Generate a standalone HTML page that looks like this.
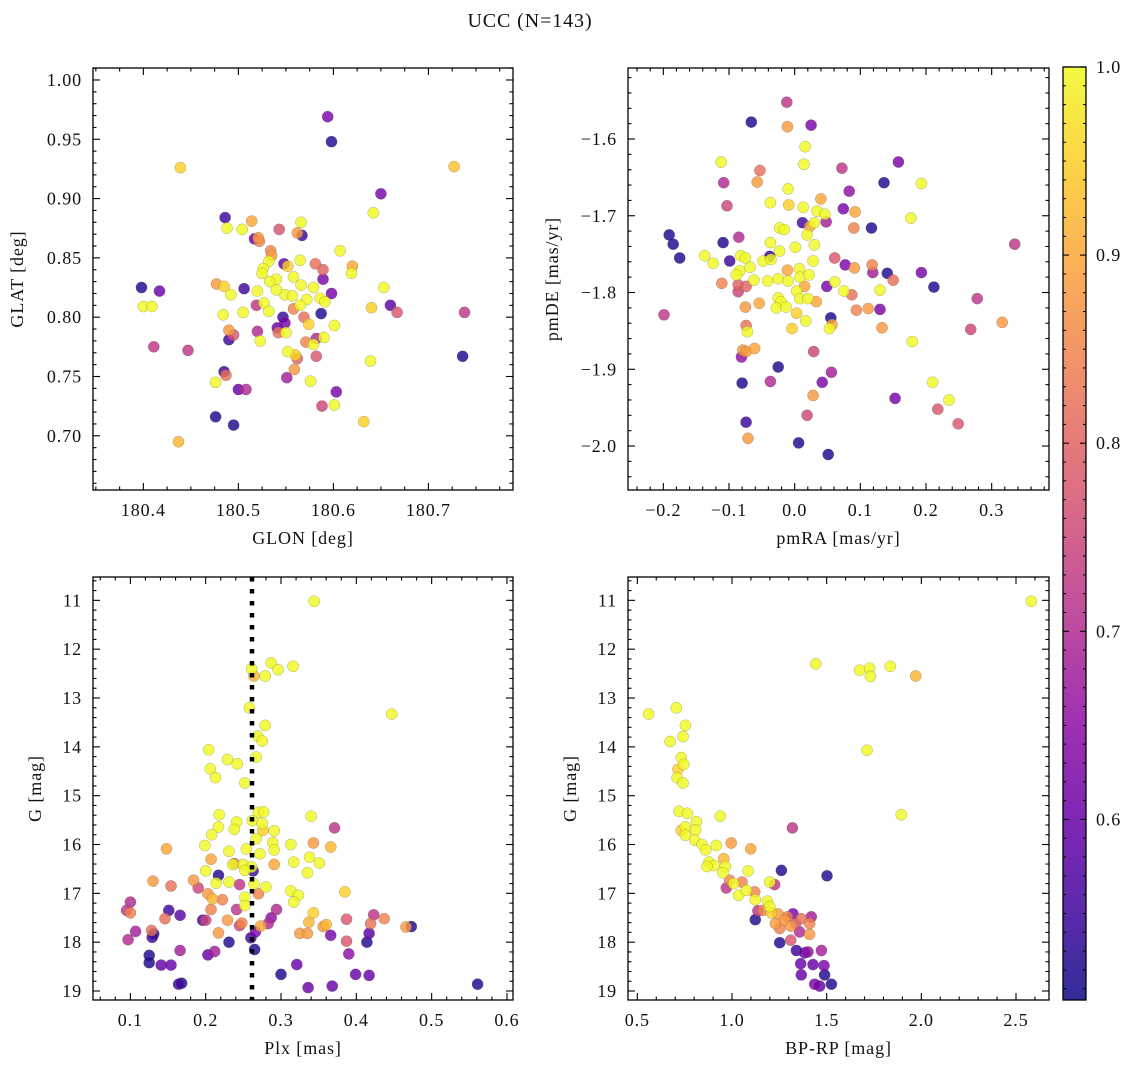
<!DOCTYPE html>
<html><head><meta charset="utf-8">
<style>
html,body{margin:0;padding:0;background:#fff;}
svg{display:block;font-family:"Liberation Serif","DejaVu Serif",serif;}
text{letter-spacing:0.9px;}
</style></head>
<body>
<svg id="fig" width="1136" height="1067" viewBox="0 0 1136 1067" xmlns="http://www.w3.org/2000/svg">
<rect x="0" y="0" width="1136" height="1067" fill="#fff"/>
<text x="530" y="27" font-size="20" text-anchor="middle" fill="#111">UCC (N=143)</text>
</svg>
<script>
// ---------- data ----------
const p1Glon = [180.594,180.598,180.439,180.727,180.650,180.642,180.486,180.488,180.504,180.514,180.543,180.566,180.567,180.562,180.517,180.521,180.522,180.607,180.534,180.535,180.565,180.548,180.581,180.620,180.619,180.589,180.532,180.526,180.525,180.552,180.558,180.589,180.477,180.485,180.506,180.540,180.533,180.566,180.579,180.653,180.398,180.417,180.492,180.520,180.549,180.557,180.598,180.586,180.572,180.540,180.400,180.409,180.527,180.519,180.558,180.565,180.591,180.640,180.660,180.667,180.738,180.505,180.532,180.587,180.484,180.547,180.569,180.541,180.549,180.574,180.601,180.490,180.495,180.490,180.520,180.542,180.550,180.523,180.571,180.582,180.579,180.590,180.411,180.447,180.552,180.560,180.562,180.582,180.639,180.736,180.485,180.487,180.476,180.559,180.551,180.576,180.500,180.508,180.603,180.588,180.601,180.476,180.495,180.632,180.437];
const p1Glat = [0.969,0.948,0.926,0.927,0.904,0.888,0.884,0.875,0.874,0.881,0.874,0.880,0.869,0.871,0.866,0.867,0.864,0.856,0.856,0.852,0.848,0.845,0.845,0.843,0.837,0.840,0.847,0.841,0.837,0.843,0.834,0.832,0.828,0.826,0.824,0.832,0.830,0.827,0.825,0.825,0.825,0.822,0.819,0.822,0.819,0.818,0.820,0.816,0.815,0.823,0.809,0.809,0.812,0.810,0.807,0.810,0.813,0.808,0.810,0.804,0.804,0.804,0.805,0.803,0.802,0.800,0.800,0.791,0.795,0.794,0.793,0.789,0.785,0.781,0.788,0.787,0.787,0.780,0.779,0.782,0.777,0.783,0.775,0.772,0.771,0.768,0.765,0.767,0.763,0.767,0.754,0.751,0.745,0.756,0.749,0.746,0.739,0.739,0.737,0.725,0.726,0.716,0.709,0.712,0.695];
const p1Prob = [0.62,0.52,0.95,0.93,0.62,1,0.55,1,1,0.9,0.77,1,0.55,0.88,0.6,0.88,0.85,1,0.85,0.88,1,0.58,0.82,0.9,1,0.8,1,1,1,0.95,1,0.62,0.88,0.95,0.55,1,1,1,1,1,0.52,0.6,1,1,1,1,0.62,1,1,1,1,1,1,0.72,0.85,1,1,0.95,0.58,0.78,0.72,1,1,0.52,1,0.55,0.82,0.6,0.62,0.95,1,0.88,0.78,0.55,0.7,0.82,1,1,0.85,0.7,1,1,0.72,0.72,1,0.95,0.8,0.78,1,0.52,0.55,0.82,1,0.88,0.68,1,0.6,0.7,0.62,0.75,1,0.52,0.52,0.95,0.92];

const p2PmRA = [-0.012,-0.066,-0.011,0.025,0.016,0.014,-0.112,-0.053,-0.108,-0.057,0.072,0.158,0.136,0.193,-0.010,0.083,0.040,-0.103,-0.037,-0.009,0.013,0.034,0.046,0.074,0.092,0.177,0.012,0.048,0.030,0.023,-0.023,-0.016,0.090,0.117,0.019,-0.191,-0.185,-0.175,-0.109,-0.085,-0.037,0.001,0.030,0.335,-0.137,-0.124,-0.099,-0.082,-0.075,-0.068,-0.048,-0.038,-0.036,-0.023,0.028,0.061,0.077,0.091,0.118,0.119,0.141,0.150,0.193,0.212,-0.084,-0.089,-0.111,-0.086,-0.086,-0.074,-0.062,-0.041,-0.025,-0.011,-0.010,0.007,0.008,0.022,0.003,0.015,0.049,0.061,0.075,0.087,0.130,0.278,-0.075,-0.054,-0.025,-0.021,-0.028,-0.013,0.008,0.020,0.033,0.003,0.017,0.094,0.112,0.130,-0.199,0.055,0.057,0.053,-0.004,-0.074,-0.072,0.133,0.316,0.268,0.179,-0.081,-0.079,-0.074,-0.061,0.029,-0.025,-0.080,-0.037,0.042,0.056,0.210,0.028,0.153,0.235,0.218,0.249,0.019,-0.074,-0.071,0.006,0.051];
const p2PmDE = [-1.552,-1.578,-1.584,-1.582,-1.610,-1.633,-1.630,-1.641,-1.657,-1.656,-1.638,-1.630,-1.657,-1.658,-1.665,-1.668,-1.678,-1.687,-1.683,-1.686,-1.689,-1.694,-1.698,-1.691,-1.695,-1.703,-1.709,-1.708,-1.709,-1.714,-1.716,-1.718,-1.716,-1.716,-1.725,-1.725,-1.737,-1.755,-1.735,-1.728,-1.735,-1.741,-1.738,-1.737,-1.752,-1.762,-1.759,-1.752,-1.755,-1.767,-1.759,-1.753,-1.757,-1.746,-1.759,-1.755,-1.764,-1.768,-1.764,-1.774,-1.775,-1.784,-1.774,-1.793,-1.772,-1.777,-1.788,-1.790,-1.799,-1.792,-1.784,-1.785,-1.782,-1.771,-1.785,-1.769,-1.780,-1.777,-1.798,-1.792,-1.792,-1.786,-1.798,-1.803,-1.797,-1.808,-1.819,-1.814,-1.807,-1.812,-1.820,-1.819,-1.808,-1.808,-1.812,-1.827,-1.837,-1.823,-1.821,-1.822,-1.829,-1.833,-1.842,-1.847,-1.847,-1.843,-1.851,-1.846,-1.839,-1.848,-1.864,-1.884,-1.875,-1.877,-1.873,-1.877,-1.897,-1.918,-1.916,-1.917,-1.904,-1.917,-1.934,-1.938,-1.940,-1.952,-1.971,-1.960,-1.969,-1.990,-1.996,-2.011];
const p2Prob = [0.72,0.52,0.88,0.62,1,1,1,0.82,0.7,0.88,0.72,0.62,0.52,1,1,0.65,0.9,0.75,1,0.95,1,1,1,0.62,0.9,1,0.55,0.68,1,0.9,1,1,0.85,0.52,1,0.52,0.52,0.52,0.52,0.7,1,1,1,0.72,1,1,0.55,1,1,1,1,0.55,1,1,1,0.78,0.62,0.88,0.85,0.68,0.52,0.82,0.62,0.52,1,1,0.85,0.8,0.75,0.8,1,1,1,0.9,1,1,1,1,1,0.9,0.62,1,1,0.82,1,0.72,0.88,0.9,1,1,1,1,1,1,0.9,0.95,1,0.85,0.88,0.62,0.72,0.52,0.9,1,0.95,0.82,1,0.88,0.88,0.75,1,0.65,0.88,0.88,0.9,0.75,0.52,0.52,0.7,0.62,0.68,1,0.88,0.62,1,0.78,0.78,0.75,0.55,0.88,0.52,0.52];

const p3Plx = [0.344,0.261,0.264,0.287,0.296,0.279,0.316,0.447,0.258,0.279,0.269,0.275,0.204,0.229,0.242,0.267,0.206,0.213,0.252,0.218,0.241,0.238,0.217,0.208,0.270,0.277,0.262,0.275,0.276,0.291,0.267,0.289,0.291,0.272,0.313,0.340,0.371,0.343,0.366,0.148,0.199,0.231,0.254,0.207,0.238,0.236,0.250,0.261,0.291,0.317,0.338,0.351,0.335,0.200,0.217,0.263,0.252,0.130,0.184,0.154,0.190,0.214,0.231,0.245,0.264,0.280,0.203,0.209,0.222,0.252,0.270,0.313,0.323,0.317,0.385,0.252,0.100,0.095,0.100,0.151,0.166,0.146,0.196,0.200,0.207,0.241,0.229,0.245,0.248,0.294,0.287,0.283,0.273,0.266,0.343,0.337,0.356,0.360,0.387,0.423,0.437,0.419,0.473,0.466,0.128,0.107,0.131,0.129,0.097,0.217,0.231,0.260,0.325,0.335,0.366,0.387,0.417,0.414,0.166,0.203,0.212,0.265,0.390,0.125,0.125,0.141,0.154,0.321,0.300,0.399,0.417,0.164,0.168,0.336,0.368,0.561];
const p3G = [11.02,12.40,12.55,12.28,12.42,12.55,12.35,13.33,13.20,13.56,13.78,13.88,14.06,14.26,14.35,14.21,14.45,14.63,14.74,15.39,15.54,15.69,15.64,15.80,15.34,15.33,15.51,15.57,15.71,15.72,15.88,15.96,16.11,16.19,16.00,15.42,15.66,15.97,16.05,16.09,16.02,16.14,16.09,16.30,16.39,16.41,16.41,16.46,16.41,16.36,16.26,16.38,16.58,16.54,16.63,16.54,16.53,16.75,16.73,16.85,16.89,16.79,16.77,16.82,16.81,16.87,17.01,17.11,17.13,17.08,17.01,16.95,17.04,17.18,16.97,17.25,17.18,17.35,17.40,17.35,17.45,17.52,17.55,17.55,17.33,17.33,17.55,17.66,17.61,17.33,17.50,17.62,17.67,17.79,17.40,17.59,17.68,17.64,17.53,17.44,17.52,17.62,17.68,17.69,17.76,17.78,17.83,17.90,17.95,17.81,18.00,17.91,17.82,17.82,17.86,17.98,17.82,18.00,18.17,18.26,18.19,18.15,18.24,18.27,18.42,18.47,18.47,18.46,18.66,18.66,18.68,18.86,18.84,18.93,18.90,18.86];
const p3Prob = [1,1,0.92,1,1,1,1,1,1,1,1,1,1,1,1,1,1,1,1,1,1,1,1,1,1,1,1,1,0.95,1,1,1,1,1,1,1,0.72,0.88,0.92,0.9,1,1,1,0.9,0.8,1,1,1,0.9,1,1,1,1,1,0.52,0.55,1,0.88,0.88,0.82,0.75,1,1,0.72,1,1,0.88,0.92,0.85,1,0.85,1,1,1,0.95,1,0.7,0.72,0.85,0.55,0.58,0.82,0.55,0.75,0.85,0.72,0.88,0.75,0.85,0.7,0.65,0.7,0.9,0.62,0.95,0.92,0.88,0.92,0.78,0.72,0.85,0.82,0.52,0.88,0.82,0.68,0.52,0.55,0.7,0.88,0.52,0.55,0.88,0.88,0.62,0.78,0.58,0.52,0.68,0.6,0.68,0.52,0.65,0.52,0.52,0.6,0.6,0.6,0.52,0.6,0.6,0.55,0.52,0.6,0.6,0.52];

const p4BpRp = [2.581,1.442,1.674,1.727,1.731,1.836,1.970,0.560,0.706,0.754,0.741,0.673,1.713,0.732,0.745,0.715,0.710,0.741,1.894,0.720,0.764,0.938,1.319,0.812,0.732,0.754,0.808,0.754,0.803,0.842,0.861,0.917,0.996,1.099,0.956,0.879,0.905,0.868,0.965,0.952,1.085,1.261,1.502,0.988,1.009,1.053,0.970,1.199,1.225,1.035,1.076,1.120,1.123,1.187,1.199,1.137,1.164,1.208,1.243,1.292,1.322,1.366,1.419,1.410,1.229,1.278,1.310,1.336,1.252,1.410,1.357,1.123,1.252,1.310,1.340,1.384,1.401,1.472,1.363,1.428,1.486,1.366,1.489,1.437,1.463,1.525];
const p4G = [11.02,12.30,12.43,12.39,12.56,12.35,12.55,13.33,13.20,13.56,13.79,13.89,14.07,14.22,14.36,14.46,14.63,14.74,15.39,15.32,15.36,15.42,15.66,15.53,15.71,15.64,15.70,15.81,15.91,16.00,16.11,16.02,15.97,16.09,16.29,16.36,16.43,16.45,16.45,16.58,16.54,16.53,16.64,16.73,16.80,16.77,16.89,16.77,16.82,17.04,16.94,16.97,17.13,17.16,17.27,17.36,17.35,17.40,17.42,17.48,17.42,17.52,17.48,17.62,17.62,17.55,17.67,17.62,17.72,17.84,17.79,17.54,18.01,17.96,18.17,18.22,18.20,18.17,18.44,18.46,18.48,18.67,18.67,18.86,18.90,18.86];
const p4Prob = [1,1,1,1,1,1,0.92,1,1,1,1,1,1,1,1,0.95,1,1,1,1,1,1,0.72,1,0.95,1,1,1,1,1,1,1,0.88,0.9,0.92,1,1,1,1,1,1,0.52,0.52,0.85,1,0.85,0.72,1,0.72,1,1,0.85,1,1,1,0.72,0.85,0.95,0.88,0.85,0.62,0.82,0.68,0.85,0.88,0.88,0.88,0.78,0.85,0.88,0.7,0.52,0.52,0.78,0.55,0.6,0.65,0.68,0.6,0.6,0.62,0.6,0.52,0.62,0.6,0.52];

const p1XTicks = [180.4,180.5,180.6,180.7];
const p1XLabels = ["180.4","180.5","180.6","180.7"];
const p1YTicks = [0.70,0.75,0.80,0.85,0.90,0.95,1.00];
const p1YLabels = ["0.70","0.75","0.80","0.85","0.90","0.95","1.00"];
const p2XTicks = [-0.2,-0.1,0.0,0.1,0.2,0.3];
const p2XLabels = ["\u22120.2","\u22120.1","0.0","0.1","0.2","0.3"];
const p2YTicks = [-1.6,-1.7,-1.8,-1.9,-2.0];
const p2YLabels = ["\u22121.6","\u22121.7","\u22121.8","\u22121.9","\u22122.0"];
const p3XTicks = [0.1,0.2,0.3,0.4,0.5,0.6];
const p3XLabels = ["0.1","0.2","0.3","0.4","0.5","0.6"];
const gTicks = [11,12,13,14,15,16,17,18,19];
const gLabels = ["11","12","13","14","15","16","17","18","19"];
const p4XTicks = [0.5,1.0,1.5,2.0,2.5];
const p4XLabels = ["0.5","1.0","1.5","2.0","2.5"];
const cbTicks = [0.6,0.7,0.8,0.9,1.0];
const cbLabels = ["0.6","0.7","0.8","0.9","1.0"];
const plxMarker = [0.2615];

// ---------- helpers ----------
const NS = "http://www.w3.org/2000/svg";
const svg = document.getElementById('fig');
const VMIN = 0.504, VMAX = 1.0;
const FS = 18;
const plasma = ["#0d0887","#41049d","#6a00a8","#8f0da4","#b12a90","#cc4778","#e16462","#f2844b","#fca636","#fcce25","#f0f921"];
function hex(h){return [parseInt(h.slice(1,3),16),parseInt(h.slice(3,5),16),parseInt(h.slice(5,7),16)];}
function cmap(t){
  t=Math.max(0,Math.min(1,t));
  const f=t*10, i=Math.min(9,Math.floor(f)), r=f-i;
  const a=hex(plasma[i]), b=hex(plasma[i+1]);
  return 'rgb('+a.map((v,k)=>Math.round(v+(b[k]-v)*r)).join(',')+')';
}
function mk(tag, attrs, parent){
  const e=document.createElementNS(NS,tag);
  for(const k in attrs) e.setAttribute(k,attrs[k]);
  (parent||svg).appendChild(e);
  return e;
}

function panel(o){
  const g=mk('g',{});
  
  
  const sx=v=>o.x0+(v-o.xmin)/(o.xmax-o.xmin)*o.w;
  const sy=v=>o.inv ? o.y0+(v-o.ymin)/(o.ymax-o.ymin)*o.h : o.y0+o.h-(v-o.ymin)/(o.ymax-o.ymin)*o.h;
  const clip='clip-'+o.name;
  const cp=mk('clipPath',{id:clip},g);
  mk('rect',{x:o.x0,y:o.y0,width:o.w,height:o.h},cp);
  const pts=mk('g',{'clip-path':'url(#'+clip+')'},g);
  
  
  const n=Math.min(o.xs.length,o.ys.length,o.cs.length);
  const idx=[...Array(n).keys()].sort((a,b)=>o.cs[a]-o.cs[b]);
  idx.forEach(i=>{
    const t=(o.cs[i]-VMIN)/(VMAX-VMIN);
    const c=mk('circle',{cx:sx(o.xs[i]).toFixed(1),cy:sy(o.ys[i]).toFixed(1),r:5.6,fill:cmap(t),'fill-opacity':0.82,stroke:'#555','stroke-opacity':0.45,'stroke-width':0.5},pts);
    
    
  });
  if(o.vline){
    o.vline.forEach(v=>{
      const l=mk('line',{x1:sx(v),x2:sx(v),y1:o.y0,y2:o.y0+o.h,stroke:'#000','stroke-width':4.5,'stroke-dasharray':'4.5 7.5'},pts);
      
      
    });
  }
  const fr=mk('rect',{x:o.x0,y:o.y0,width:o.w,height:o.h,fill:'none',stroke:'#000','stroke-width':1.3},g);
  
  
  const tg=mk('g',{stroke:'#000','stroke-width':1.1},g);
  const near=(v,arr,s)=>arr.some(a=>Math.abs(a-v)<s*0.3);
  o.xt.forEach(v=>{const x=sx(v);
    mk('line',{x1:x,x2:x,y1:o.y0+o.h,y2:o.y0+o.h-7},tg);mk('line',{x1:x,x2:x,y1:o.y0,y2:o.y0+7},tg);});
  for(let k=Math.ceil(o.xmin/o.xm);k*o.xm<=o.xmax;k++){const v=k*o.xm;if(near(v,o.xt,o.xm))continue;const x=sx(v);
    mk('line',{x1:x,x2:x,y1:o.y0+o.h,y2:o.y0+o.h-3.5},tg);mk('line',{x1:x,x2:x,y1:o.y0,y2:o.y0+3.5},tg);}
  o.yt.forEach(v=>{const y=sy(v);
    mk('line',{x1:o.x0,x2:o.x0+7,y1:y,y2:y},tg);mk('line',{x1:o.x0+o.w,x2:o.x0+o.w-7,y1:y,y2:y},tg);});
  for(let k=Math.ceil(Math.min(o.ymin,o.ymax)/o.ym);k*o.ym<=Math.max(o.ymin,o.ymax);k++){const v=k*o.ym;if(near(v,o.yt,o.ym))continue;const y=sy(v);
    mk('line',{x1:o.x0,x2:o.x0+3.5,y1:y,y2:y},tg);mk('line',{x1:o.x0+o.w,x2:o.x0+o.w-3.5,y1:y,y2:y},tg);}
  o.xt.forEach((v,i)=>{const t=mk('text',{x:sx(v),y:o.y0+o.h+26,'font-size':FS,'text-anchor':'middle',fill:'#111'},g);t.textContent=o.xl[i];
    
    });
  o.yt.forEach((v,i)=>{const t=mk('text',{x:o.x0-11,y:sy(v)+6,'font-size':FS,'text-anchor':'end',fill:'#111'},g);t.textContent=o.yl[i];
    
    });
  const xt=mk('text',{x:o.x0+o.w/2,y:o.y0+o.h+54,'font-size':FS,'text-anchor':'middle',fill:'#111'},g);xt.textContent=o.xlabel;
  
  
  const yx=o.x0-o.ylOff, yy=o.y0+o.h/2;
  const yt=mk('text',{x:yx,y:yy,'font-size':FS,'text-anchor':'middle',fill:'#111',transform:'rotate(-90 '+yx+' '+yy+')'},g);yt.textContent=o.ylabel;
  
  
}

panel({name:'glon-glat-panel',x0:93,y0:68,w:420,h:422,xmin:180.347,xmax:180.789,ymin:0.6543,ymax:1.0101,inv:false,
  xt:p1XTicks,xl:p1XLabels,xm:0.025,yt:p1YTicks,yl:p1YLabels,ym:0.01,xs:p1Glon,ys:p1Glat,cs:p1Prob,
  xlabel:'GLON [deg]',ylabel:'GLAT [deg]',ylOff:70});
panel({name:'propermotion-panel',x0:628,y0:68,w:421,h:422,xmin:-0.2538,xmax:0.3873,ymin:-2.0573,ymax:-1.5075,inv:false,
  xt:p2XTicks,xl:p2XLabels,xm:0.02,yt:p2YTicks,yl:p2YLabels,ym:0.02,xs:p2PmRA,ys:p2PmDE,cs:p2Prob,
  xlabel:'pmRA [mas/yr]',ylabel:'pmDE [mas/yr]',ylOff:70});
panel({name:'plx-g-panel',x0:93,y0:577,w:420,h:423,xmin:0.0504,xmax:0.6080,ymin:10.522,ymax:19.184,inv:true,
  xt:p3XTicks,xl:p3XLabels,xm:0.02,yt:gTicks,yl:gLabels,ym:0.2,xs:p3Plx,ys:p3G,cs:p3Prob,vline:plxMarker,
  xlabel:'Plx [mas]',ylabel:'G [mag]',ylOff:52});
panel({name:'cmd-panel',x0:628,y0:577,w:421,h:423,xmin:0.4507,xmax:2.6743,ymin:10.522,ymax:19.184,inv:true,
  xt:p4XTicks,xl:p4XLabels,xm:0.1,yt:gTicks,yl:gLabels,ym:0.2,xs:p4BpRp,ys:p4G,cs:p4Prob,
  xlabel:'BP-RP [mag]',ylabel:'G [mag]',ylOff:52});

(function(){
  const x=1063,y=67,w=23,h=933;
  const defs=mk('defs',{});
  const lg=mk('linearGradient',{id:'cbgrad',x1:0,y1:1,x2:0,y2:0},defs);
  for(let i=0;i<=20;i++){mk('stop',{offset:(i/20),'stop-color':cmap(i/20),'stop-opacity':0.85},lg);}
  const g=mk('g',{});
  
  
  mk('rect',{x:x,y:y,width:w,height:h,fill:'url(#cbgrad)'},g);
  mk('rect',{x:x,y:y,width:w,height:h,fill:'none',stroke:'#000','stroke-width':1.3},g);
  const sy=v=>y+h-(v-VMIN)/(VMAX-VMIN)*h;
  cbTicks.forEach((v,i)=>{const yy=sy(v);
    mk('line',{x1:x,x2:x+6,y1:yy,y2:yy,stroke:'#000','stroke-width':1.1},g);
    mk('line',{x1:x+w,x2:x+w-6,y1:yy,y2:yy,stroke:'#000','stroke-width':1.1},g);
    const t=mk('text',{x:x+w+10,y:yy+6,'font-size':FS,fill:'#111'},g);t.textContent=cbLabels[i];
    
    });
  for(let k=51;k<=100;k++){const v=k/100;if(k%10===0)continue;const yy=sy(v);
    mk('line',{x1:x,x2:x+3,y1:yy,y2:yy,stroke:'#000','stroke-width':1},g);
    mk('line',{x1:x+w,x2:x+w-3,y1:yy,y2:yy,stroke:'#000','stroke-width':1},g);}
})();
</script>
</body></html>
